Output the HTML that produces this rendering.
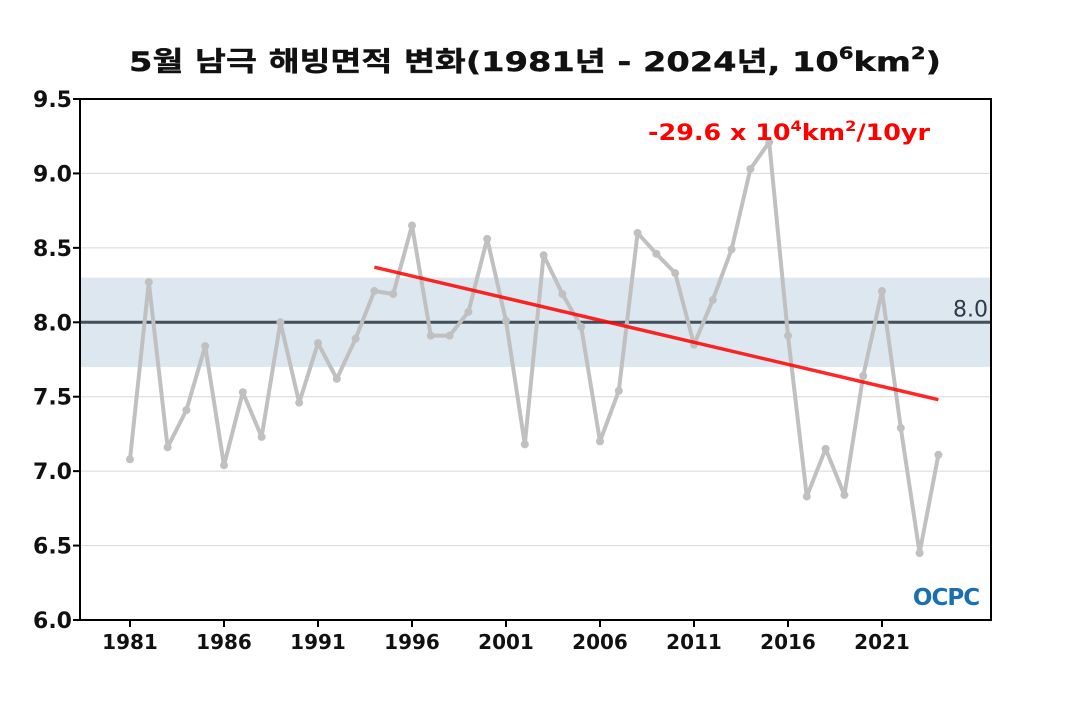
<!DOCTYPE html>
<html><head><meta charset="utf-8"><style>
body{margin:0;background:#fff;width:1070px;height:700px;overflow:hidden;font-family:"DejaVu Sans","Noto Sans CJK KR",sans-serif}
</style></head><body>
<svg id="chart" width="1070" height="700" xmlns="http://www.w3.org/2000/svg" font-family="DejaVu Sans, Noto Sans CJK KR, sans-serif">
<text x="535" y="71" text-anchor="middle" font-size="27" font-weight="bold" fill="#111" stroke="#111" stroke-width="0.4" textLength="812" lengthAdjust="spacingAndGlyphs">5월 남극 해빙면적 변화(1981년 - 2024년, 10<tspan dy="-12" font-size="17">6</tspan><tspan dy="12">km</tspan><tspan dy="-12" font-size="17">2</tspan><tspan dy="12">)</tspan></text>
<g id="plot"></g>
</svg>
<script>
const years=[1981,1982,1983,1984,1985,1986,1987,1988,1989,1990,1991,1992,1993,1994,1995,1996,1997,1998,1999,2000,2001,2002,2003,2004,2005,2006,2007,2008,2009,2010,2011,2012,2013,2014,2015,2016,2017,2018,2019,2020,2021,2022,2023,2024];
const values=[7.08,8.27,7.16,7.41,7.84,7.04,7.53,7.23,8.00,7.46,7.86,7.62,7.89,8.21,8.19,8.65,7.91,7.91,8.07,8.56,8.01,7.18,8.45,8.19,7.97,7.20,7.54,8.60,8.46,8.33,7.85,8.15,8.49,9.03,9.21,7.91,6.83,7.15,6.84,7.64,8.21,7.29,6.45,7.11];
const trendYears=[1994,2024];
const trendValues=[8.37,7.48];
const yTicks=[6.0,6.5,7.0,7.5,8.0,8.5,9.0,9.5];
const xTicks=[1981,1986,1991,1996,2001,2006,2011,2016,2021];
const band=[7.7,8.3];
const baseline=8.0;
const L=80,R=991,T=99,B=620;
const x=v=>130+(v-1981)*(882-130)/40;
const y=v=>B-(v-6)*(B-T)/3.5;
const ns='http://www.w3.org/2000/svg';
const g=document.getElementById('plot');
function mk(tag,at,parent){const e=document.createElementNS(ns,tag);for(const k in at)e.setAttribute(k,at[k]);(parent||g).appendChild(e);return e;}
yTicks.forEach(t=>{
 const l=mk('line',{x1:L,x2:R,y1:y(t),y2:y(t),stroke:'#d8d8d8','stroke-width':1});
 
 
 mk('line',{x1:L-7,x2:L,y1:y(t),y2:y(t),stroke:'#000','stroke-width':2});
 const tx=mk('text',{x:72,y:y(t)+8,'text-anchor':'end','font-size':22,'font-weight':'bold',fill:'#111'});
 tx.textContent=t.toFixed(1);
 
 
});
const bd=mk('rect',{x:L,y:y(band[1]),width:R-L,height:y(band[0])-y(band[1]),fill:'#dde7f0'});


const bl=mk('line',{x1:L,x2:R,y1:y(baseline),y2:y(baseline),stroke:'#454f5a','stroke-width':3});


const blt=mk('text',{x:988,y:y(baseline)-6,'text-anchor':'end','font-size':22,fill:'#2e3a4a'});
blt.textContent=baseline.toFixed(1);


xTicks.forEach(t=>{
 mk('line',{x1:x(t),x2:x(t),y1:B,y2:B+7,stroke:'#000','stroke-width':2});
 const tx=mk('text',{x:x(t),y:649,'text-anchor':'middle','font-size':20,'font-weight':'bold',fill:'#111'});
 tx.textContent=t;
 
 
});
const ln=mk('polyline',{points:years.map((yr,i)=>x(yr)+','+y(values[i])).join(' '),fill:'none',stroke:'#c0c0c0','stroke-width':4,'stroke-linejoin':'round'});


years.forEach((yr,i)=>{
 const c=mk('circle',{cx:x(yr),cy:y(values[i]),r:4,fill:'#c0c0c0'});
 
 
});
const tr=mk('line',{x1:x(trendYears[0]),y1:y(trendValues[0]),x2:x(trendYears[1]),y2:y(trendValues[1]),stroke:'#ff0000','stroke-opacity':0.85,'stroke-width':3.5});


const tt=mk('text',{x:648,y:140,'text-anchor':'start','font-size':22,'font-weight':'bold',fill:'#ff0000',textLength:282,lengthAdjust:'spacingAndGlyphs'});
tt.innerHTML='-29.6 x 10<tspan dy="-9" font-size="14">4</tspan><tspan dy="9">km</tspan><tspan dy="-9" font-size="14">2</tspan><tspan dy="9">/10yr</tspan>';


const ax=mk('rect',{x:L,y:T,width:R-L,height:B-T,fill:'none',stroke:'#000','stroke-width':2});


const lg=mk('text',{x:946,y:605,'text-anchor':'middle','font-size':23,'font-weight':'bold',fill:'#1a6fb0','letter-spacing':'-1'});
lg.textContent='OCPC';


</script>
</body></html>
